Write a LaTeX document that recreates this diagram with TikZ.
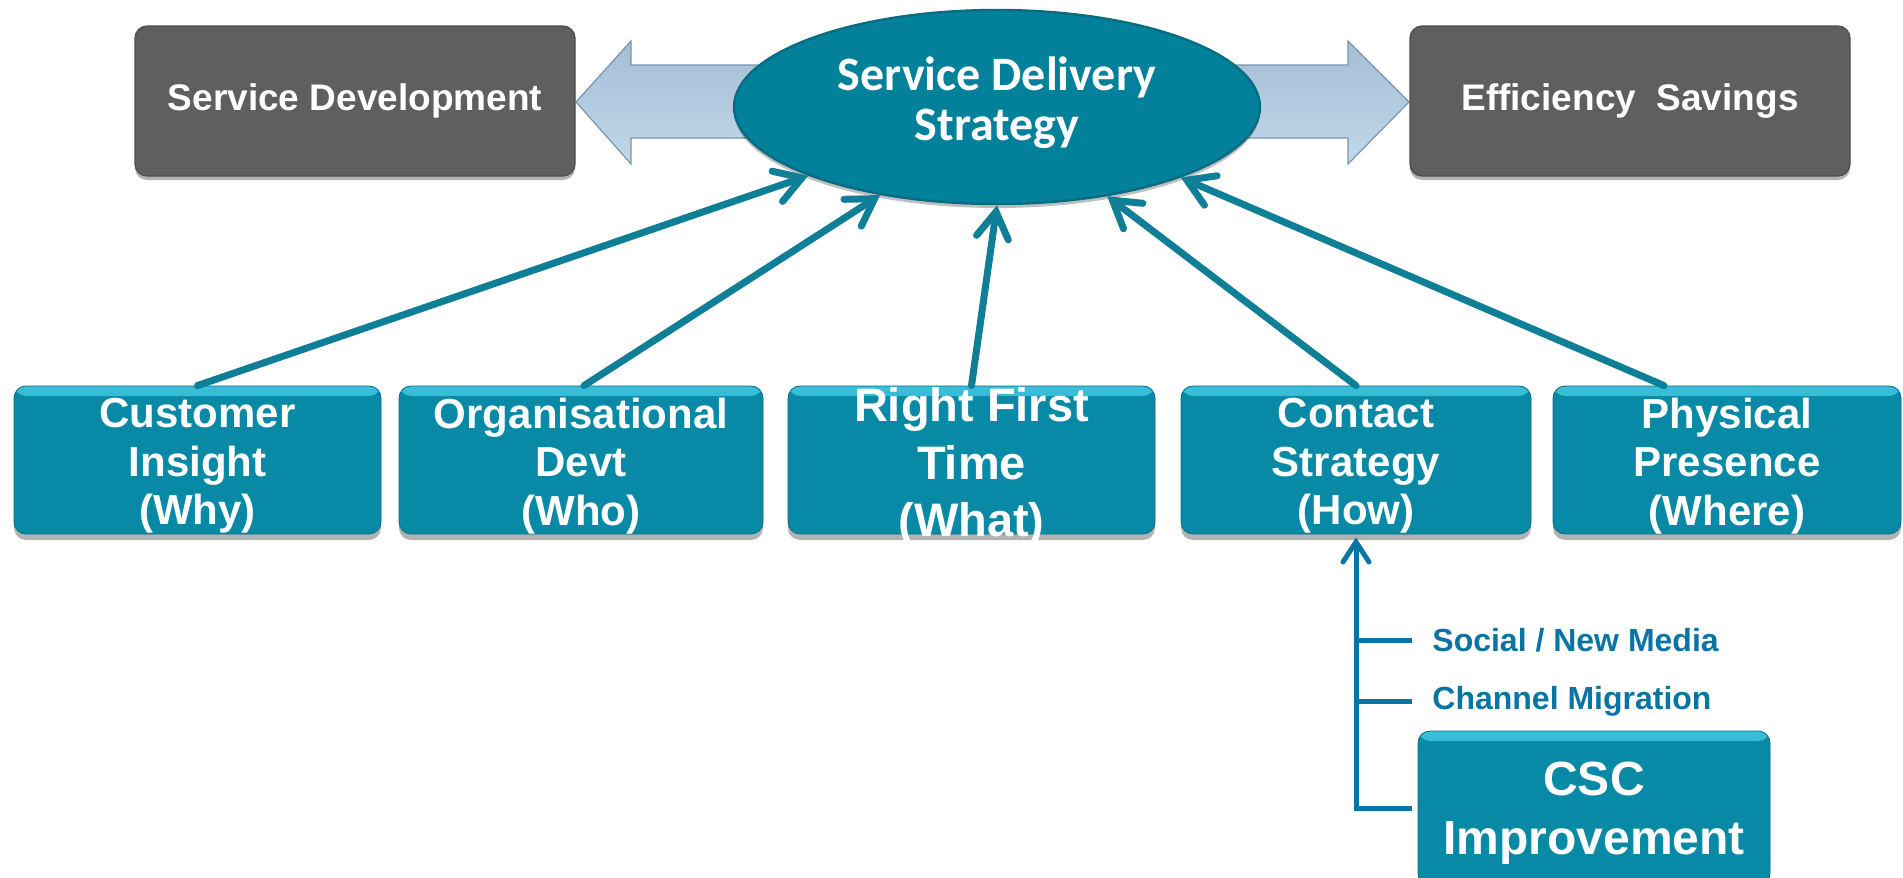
\documentclass[tikz,border=0pt]{standalone}
\usepackage{fontspec}
\setmainfont{Liberation Sans}
\newfontfamily\calibfont{Carlito}
\usetikzlibrary{shadows,arrows.meta,calc,shapes.geometric}
\definecolor{boxteal}{HTML}{0889A5}
\definecolor{boxhl}{HTML}{4FD6F2}
\definecolor{elfill}{HTML}{03809A}
\definecolor{eledge}{HTML}{0A6C82}
\definecolor{conncol}{HTML}{0F7E97}
\definecolor{vcol}{HTML}{0A74A4}
\definecolor{greybox}{HTML}{5F5F5F}
\definecolor{greyedge}{HTML}{4E4E4E}
\definecolor{arrTop}{HTML}{A4BED5}
\definecolor{arrMid}{HTML}{8FAFCB}
\definecolor{arrBot}{HTML}{C2D8EA}
\definecolor{arrEdge}{HTML}{7895B0}
\begin{document}
\begin{tikzpicture}[x=0.5pt,y=-0.5pt,
  bigarrow/.style={top color=arrTop, middle color=arrMid, bottom color=arrBot, draw=arrEdge, line width=0.6pt},
  tealbox/.style={rounded corners=6pt, fill=boxteal, draw=boxteal!80!black, line width=0.4pt,
    inner sep=0pt, text=white, align=center,
    drop shadow={shadow xshift=0pt, shadow yshift=-3pt, opacity=0.3, fill=black},
    path picture={\shade[top color=boxhl!70!boxteal, bottom color=boxteal]
      (path picture bounding box.north west) rectangle ([yshift=-5pt]path picture bounding box.north east);}},
  lowbox/.style={tealbox, minimum height=74pt},
  boxtext/.style={text=white, align=center, inner sep=0pt, font=\bfseries\fontsize{21}{24.25}\selectfont},
  greyb/.style={rounded corners=6pt, fill=greybox, draw=greyedge, line width=0.6pt,
    minimum width=220pt, minimum height=75pt, inner sep=0pt, text=white,
    font=\bfseries\fontsize{18.5}{22}\selectfont,
    drop shadow={shadow xshift=0pt, shadow yshift=-2pt, opacity=0.3, fill=black}},
  conn/.style={draw=conncol, line width=3.5pt, line cap=round,
    -{Straight Barb[length=13pt,width=16pt,line cap=round]}},
  vline/.style={draw=vcol, line width=2.5pt},
  sidetext/.style={anchor=west, inner sep=0pt, text=vcol, font=\bfseries\fontsize{16}{18}\selectfont}
]
\useasboundingbox (0,0) rectangle (1903,878);

% big shaded arrows behind the ellipse
\path[bigarrow] (850,65) -- (631,65) -- (631,41) -- (576,102) -- (631,164) -- (631,138) -- (850,138) -- cycle;
\path[bigarrow] (1150,65) -- (1348,65) -- (1348,41) -- (1409,102) -- (1348,164) -- (1348,138) -- (1150,138) -- cycle;

% top row
\node[greyb] (sd) at (355,101) {Service Development};
\node[greyb] (es) at (1630,101) {Efficiency\ \ Savings};
\node[ellipse, minimum width=263pt, minimum height=97pt, inner sep=0pt,
  fill=elfill, draw=eledge, line width=1.2pt,
  drop shadow={shadow xshift=0pt, shadow yshift=-2pt, opacity=0.25, fill=black},
  label={[text=white, align=center, inner sep=0pt, yshift=2pt,
    font=\calibfont\bfseries\fontsize{24}{25}\selectfont]center:{Service Delivery\\Strategy}}]
  (ell) at (997,107) {};

% bottom row
\node[lowbox, minimum width=183.5pt, label={[boxtext, yshift=-3pt]center:{Customer\\Insight\\(Why)}}] (cust) at (197.5,460) {};
\node[lowbox, minimum width=182pt, label={[boxtext, yshift=-3pt]center:{Organisational\\Devt\\(Who)}}] (org) at (581,460) {};
\node[lowbox, minimum width=183.5pt, label={[boxtext, yshift=-3.5pt, font=\bfseries\fontsize{23.5}{28.75}\selectfont]center:{Right First\\Time\\(What)}}] (rft) at (971.5,460) {};
\node[lowbox, minimum width=175pt, label={[boxtext, yshift=-3pt]center:{Contact\\Strategy\\(How)}}] (cont) at (1356,460) {};
\node[lowbox, minimum width=174pt, label={[boxtext, yshift=-3pt]center:{Physical\\Presence\\(Where)}}] (phys) at (1727,460) {};

\node[tealbox, minimum width=176pt, minimum height=77pt,
  label={[boxtext, yshift=-2.5pt, font=\bfseries\fontsize{24}{29.5}\selectfont]center:{CSC\\Improvement}}] (csc) at (1594,808) {};

% connectors to the ellipse
\draw[conn] (cust.north) -- (ell.200);
\draw[conn] ([xshift=1.5pt]org.north) -- (ell.217.6);
\draw[conn] (rft.north) -- (ell.270);
\draw[conn] (cont.north) -- (ell.321.4);
\draw[conn] ([xshift=-31.5pt]phys.north) -- (ell.339.4);

% contact strategy feeders
\node[sidetext] (soc) at (1432,640) {Social / New Media};
\node[sidetext] (chm) at (1432,701) {Channel Migration};
\draw[vline, -{Straight Barb[length=10pt,width=13pt,line cap=round]}]
  ([xshift=-3pt]csc.west) -| ([yshift=-1.5pt]cont.south);
\draw[vline] (soc.west -| cont.south) -- ([xshift=-10pt]soc.west);
\draw[vline] (chm.west -| cont.south) -- ([xshift=-10pt]chm.west);
\end{tikzpicture}
\end{document}
